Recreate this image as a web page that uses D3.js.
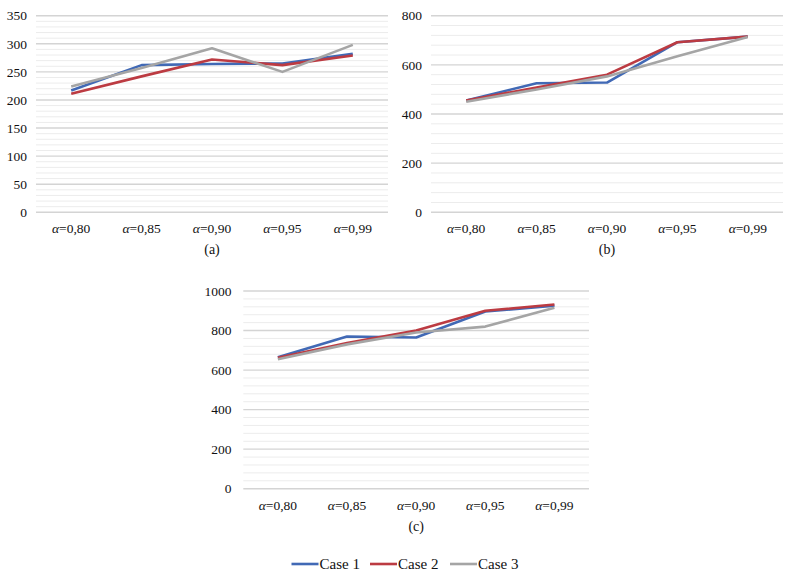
<!DOCTYPE html>
<html><head><meta charset="utf-8">
<script src="https://cdn.jsdelivr.net/npm/d3@7"></script>
<style>
html,body{margin:0;padding:0;background:#fff;}
</style></head>
<body>
<svg id="chart" width="790" height="583" font-family="'Liberation Serif', 'Times New Roman', Times, serif"></svg>
<script>
const categories = ["0,80","0,85","0,90","0,95","0,99"];
const seriesNames = ["Case 1","Case 2","Case 3"];
const colors = ["#4169B5","#BC3B42","#A5A5A5"];

const panelA_case1 = [217, 262, 264, 265, 282];
const panelA_case2 = [211, 242, 272, 262, 279];
const panelA_case3 = [224, 257, 292, 250, 298];

const panelB_case1 = [455, 525, 528, 692, 715];
const panelB_case2 = [455, 508, 560, 692, 715];
const panelB_case3 = [450, 500, 553, 635, 713];

const panelC_case1 = [665, 770, 765, 896, 926];
const panelC_case2 = [662, 737, 800, 900, 932];
const panelC_case3 = [655, 730, 790, 820, 915];

const panelLabels = ["(a)","(b)","(c)"];
const yMax = [350, 800, 1000];
const yMajor = [50, 200, 200];

const panels = [
  {label: panelLabels[0], series:[panelA_case1,panelA_case2,panelA_case3], max:yMax[0], major:yMajor[0],
   x0:36, x1:388, y0:212.3, y1:15.7, labelX:27},
  {label: panelLabels[1], series:[panelB_case1,panelB_case2,panelB_case3], max:yMax[1], major:yMajor[1],
   x0:431, x1:783, y0:212.3, y1:15.7, labelX:422},
  {label: panelLabels[2], series:[panelC_case1,panelC_case2,panelC_case3], max:yMax[2], major:yMajor[2],
   x0:243.3, x1:589, y0:488.7, y1:291, labelX:231.5}
];

const svg = d3.select("#chart");

panels.forEach(p => {
  const g = svg.append("g");
  const x = d3.scaleBand().domain(categories).range([p.x0, p.x1]);
  const y = d3.scaleLinear().domain([0, p.max]).range([p.y0, p.y1]);
  const minor = p.major / 5;
  const minorTicks = d3.range(0, p.max + 1e-9, minor).filter(v => Math.abs(v / p.major - Math.round(v / p.major)) > 1e-6);
  const majorTicks = d3.range(0, p.max + 1e-9, p.major);

  g.selectAll("line.minor").data(minorTicks).join("line")
    .attr("x1", p.x0).attr("x2", p.x1)
    .attr("y1", d => y(d)).attr("y2", d => y(d))
    .attr("stroke", "#ececec").attr("stroke-width", 1);
  g.selectAll("line.major").data(majorTicks).join("line")
    .attr("x1", p.x0).attr("x2", p.x1)
    .attr("y1", d => y(d)).attr("y2", d => y(d))
    .attr("stroke", "#d4d4d4").attr("stroke-width", 1.4);

  g.selectAll("text.ytick").data(majorTicks).join("text")
    .attr("x", p.labelX).attr("y", d => y(d)).attr("dy", "0.35em")
    .attr("text-anchor", "end").attr("font-size", 13.5).attr("fill", "#111")
    .text(d => d);

  const xt = g.selectAll("text.xtick").data(categories).join("text")
    .attr("x", d => x(d) + x.bandwidth() / 2).attr("y", p.y0 + 21)
    .attr("text-anchor", "middle").attr("font-size", 13.5).attr("fill", "#111");
  xt.append("tspan").attr("font-style", "italic").text("α");
  xt.append("tspan").text(d => "=" + d);

  g.append("text").attr("x", (p.x0 + p.x1) / 2).attr("y", p.y0 + 42)
    .attr("text-anchor", "middle").attr("font-size", 14).attr("fill", "#111").text(p.label);

  const line = d3.line().x((d, i) => x(categories[i]) + x.bandwidth() / 2).y(d => y(d));
  p.series.forEach((s, si) => {
    g.append("path").datum(s).attr("d", line)
      .attr("fill", "none").attr("stroke", colors[si]).attr("stroke-width", 2.6)
      .attr("stroke-linejoin", "round");
  });
});

// legend
const legendX = [291.5, 370, 450];
const lg = svg.append("g");
seriesNames.forEach((n, i) => {
  lg.append("line").attr("x1", legendX[i]).attr("x2", legendX[i] + 27)
    .attr("y1", 564).attr("y2", 564).attr("stroke", colors[i]).attr("stroke-width", 2.6);
  lg.append("text").attr("x", legendX[i] + 28).attr("y", 564).attr("dy", "0.35em")
    .attr("font-size", 15).attr("fill", "#111").text(n);
});
</script>
</body></html>
